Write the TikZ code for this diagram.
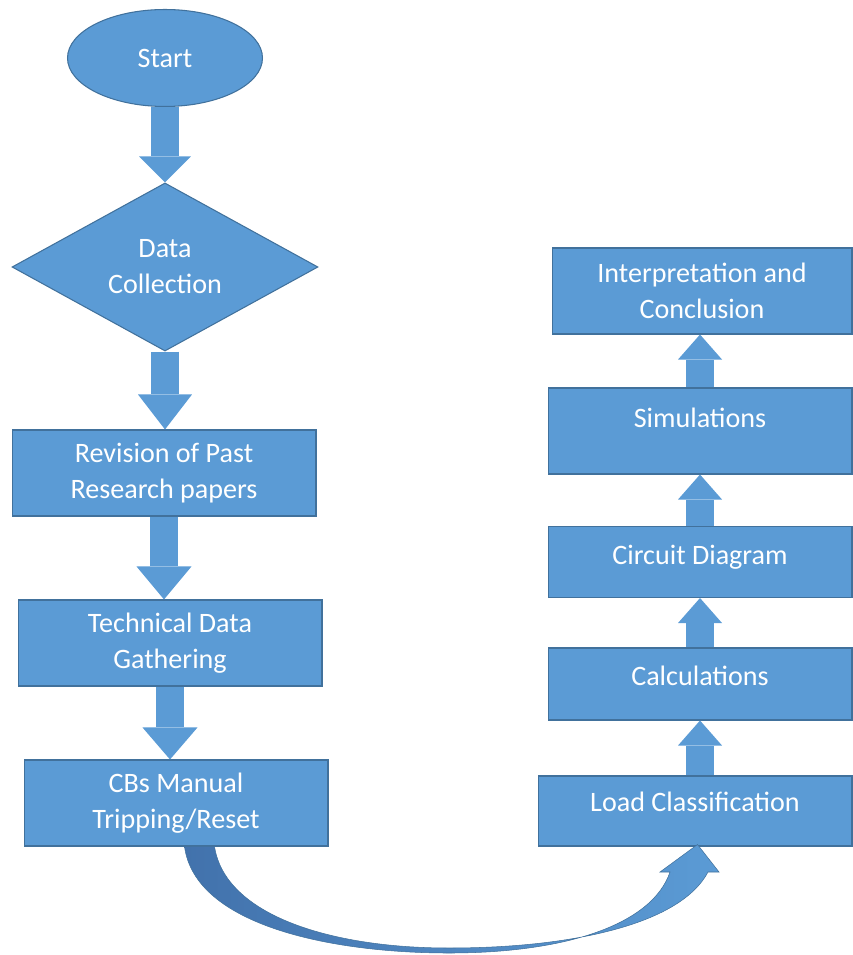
\documentclass[tikz,border=0pt]{standalone}
\usepackage{fontspec}
\setmainfont{Carlito}
\usetikzlibrary{shapes.geometric,arrows.meta,calc}

\definecolor{boxblue}{HTML}{5B9BD5}
\definecolor{boxline}{HTML}{41719C}
\definecolor{arrowdark}{HTML}{4272AC}

\tikzset{
  box/.style={rectangle, draw=boxline, line width=0.6pt, fill=boxblue, text=white,
    align=center, inner sep=0pt, font=\fontsize{16}{20.5}\selectfont},
  blockarrow/.style={draw=boxblue, line width=0.56cm},
  lift/.style={text depth=#1},
}

\begin{document}
\begin{tikzpicture}[x=0.02cm,y=-0.02cm]
\useasboundingbox (0,0) rectangle (852,955);
% Left column
\node [box, ellipse, minimum width=3.9cm, minimum height=1.94cm] (start) at (165,58) {Start};
\node [box, diamond, minimum width=6.12cm, minimum height=3.26cm] (data) at (165,267) {Data\\Collection};
\node [box, minimum width=6.08cm, minimum height=1.72cm] (rev) at (164,473) {Revision of Past\\Research papers};
\node [box, minimum width=6.08cm, minimum height=1.72cm] (tech) at (170,643) {Technical Data\\Gathering};
\node [box, minimum width=6.08cm, minimum height=1.72cm] (cbs) at (176,803) {CBs Manual\\Tripping/Reset};
%
\draw [blockarrow, -{Triangle[length=0.52cm,width=1.04cm,line width=0pt]}] (start.south) -- (data.north);
\draw [blockarrow, -{Triangle[length=0.7cm,width=1.08cm,line width=0pt]}] (data.south) -- (data.south |- rev.north);
\draw [blockarrow, -{Triangle[length=0.66cm,width=1.1cm,line width=0pt]}] (rev.south) -- (rev.south |- tech.north);
\draw [blockarrow, -{Triangle[length=0.64cm,width=1.1cm,line width=0pt]}] (tech.south) -- (tech.south |- cbs.north);
% Right column
\node [box, minimum width=6cm, minimum height=1.72cm] (interp) at (702,291) {Interpretation and\\Conclusion};
\node [box, lift=15pt, minimum width=6.08cm, minimum height=1.72cm] (sim) at (700,431) {Simulations};
\node [box, lift=8pt, minimum width=6.08cm, minimum height=1.42cm] (circ) at (700,562) {Circuit Diagram};
\node [box, lift=9pt, minimum width=6.08cm, minimum height=1.44cm] (calc) at (700,684) {Calculations};
\node [box, lift=10pt, minimum width=6.28cm, minimum height=1.4cm] (load) at (695,811) {Load Classification};
%
\draw [blockarrow, -{Triangle[length=0.5cm,width=0.88cm,line width=0pt]}] (calc.south |- load.north) -- (calc.south);
\draw [blockarrow, -{Triangle[length=0.5cm,width=0.88cm,line width=0pt]}] (circ.south |- calc.north) -- (circ.south);
\draw [blockarrow, -{Triangle[length=0.5cm,width=0.88cm,line width=0pt]}] (sim.south |- circ.north) -- (sim.south);
\draw [blockarrow, -{Triangle[length=0.5cm,width=0.88cm,line width=0pt]}] (sim.north) -- (sim.north |- interp.south);
% Curved arrow
\coordinate (c1) at ($(cbs.south west)+(161,0)$);
\coordinate (c2) at ($(cbs.south west)+(191,0)$);
\coordinate (tip) at ($(load.south west)+(160,-2)$);
\shadedraw [left color=arrowdark, right color=boxblue, draw=boxline, line width=0.3pt]
  (c1) .. controls (195,925) and (330,953) .. (449,953)
  .. controls (565,953) and (652,925) .. (670,872) -- (660,872) -- (tip) -- (719,872) -- (708,872)
  .. controls (680,925) and (570,948) .. (449,948)
  .. controls (330,948) and (225,915) .. (c2) -- cycle;
%
\end{tikzpicture}
\end{document}
